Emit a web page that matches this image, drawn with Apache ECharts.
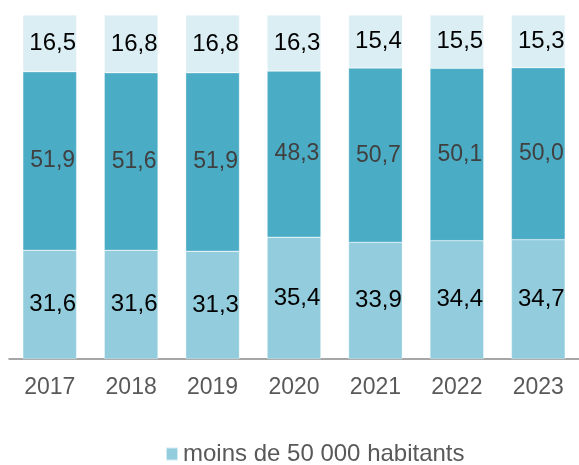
<!DOCTYPE html>
<html><head><meta charset="utf-8">
<script src="https://cdn.jsdelivr.net/npm/echarts@6/dist/echarts.min.js"></script>
<style>html,body{margin:0;padding:0;background:#fff}#c{width:579px;height:465px}</style>
</head><body><div id="c"></div>
<script>
var categories = ['2017','2018','2019','2020','2021','2022','2023'];
var seriesNames = ['moins de 50 000 habitants','de 50 000 à 200 000 habitants','plus de 200 000 habitants'];
var bottomValues = [31.6, 31.6, 31.3, 35.4, 33.9, 34.4, 34.7];
var middleValues = [51.9, 51.6, 51.9, 48.3, 50.7, 50.1, 50.0];
var topValues = [16.5, 16.8, 16.8, 16.3, 15.4, 15.5, 15.3];

var FAM = '"Liberation Sans", Arial, sans-serif';
var fmt = function(p){ return p.value.toFixed(1).replace('.', ','); };
function mk(name, data, color, labelColor, size){
  return {
    name: name, type: 'bar', stack: 'total', data: data, barCategoryGap: '34%',
    itemStyle: {color: color, borderColor: 'rgba(255,255,255,0.6)', borderWidth: 0.5},
    label: {show: true, position: 'inside', formatter: fmt, color: labelColor, offset: [3, 0],
            fontFamily: FAM, fontSize: size},
    emphasis: {disabled: true}
  };
}
var chart = echarts.init(document.getElementById('c'), null, {renderer: 'canvas'});
chart.setOption({
  animation: false,
  grid: {left: 9, right: 0, top: 15, bottom: 106, containLabel: false},
  legend: {data: [seriesNames[0]], left: 165, top: 442, padding: 0, itemWidth: 12, itemHeight: 13, icon: 'rect',
           textStyle: {color: '#595959', fontSize: 24, fontFamily: FAM}},
  xAxis: {type: 'category', data: categories,
          axisLine: {lineStyle: {color: '#898989', width: 1.5}},
          axisTick: {inside: true, length: 7, lineStyle: {color: '#898989', width: 1.5}},
          axisLabel: {color: '#595959', fontSize: 23, margin: 17, fontFamily: FAM}},
  yAxis: {type: 'value', min: 0, max: 100, show: false},
  series: [
    mk(seriesNames[0], bottomValues, '#93CDDD', '#000000', 24),
    mk(seriesNames[1], middleValues, '#4BACC6', '#404040', 23),
    mk(seriesNames[2], topValues, '#DBEEF4', '#000000', 24)
  ]
});
</script></body></html>
